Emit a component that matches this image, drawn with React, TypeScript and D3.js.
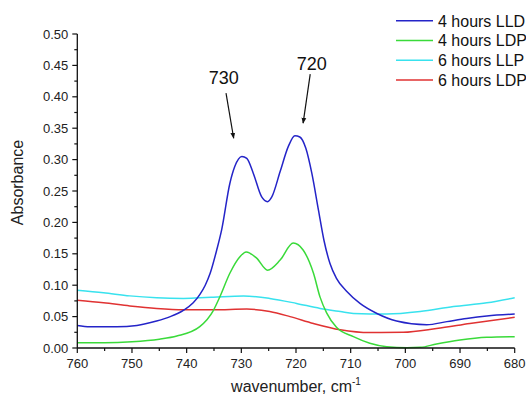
import React from "react";
import * as d3 from "d3";

const seriesNames = ["4 hours LLD", "4 hours LDP", "6 hours LLP", "6 hours LDP"];
const seriesColors = ["#2424c8", "#3ada3a", "#38e2ee", "#e03232"];

const blueWn = [760, 757.7, 752.8, 749.1, 745.5, 743, 740.6, 738.8, 737.6, 736.6, 735.7, 734.5, 733.6, 732.1, 731.2, 729.9, 729, 727.8, 726.3, 725.2, 724.4, 722.9, 721.4, 720.2, 719.3, 718.2, 717.1, 715.9, 714.9, 713.8, 712.6, 710.7, 708.3, 705.2, 701.6, 696.1, 692.4, 688.8, 685.1, 680];
const blueAbs = [0.036, 0.034, 0.034, 0.036, 0.043, 0.05, 0.06, 0.072, 0.085, 0.1, 0.119, 0.156, 0.188, 0.262, 0.289, 0.305, 0.302, 0.278, 0.241, 0.233, 0.241, 0.281, 0.321, 0.338, 0.336, 0.318, 0.278, 0.22, 0.172, 0.135, 0.111, 0.09, 0.071, 0.055, 0.043, 0.037, 0.042, 0.047, 0.051, 0.054];

const greenWn = [760, 755, 750, 745, 741.8, 737.6, 735.1, 733.9, 732.1, 730.3, 729.1, 727.2, 725.2, 722.9, 720.5, 718.7, 716.8, 715.6, 714.4, 712.6, 709.5, 706.5, 703.4, 699.7, 697.3, 694.3, 690, 685.1, 680];
const greenAbs = [0.0085, 0.0085, 0.01, 0.014, 0.019, 0.034, 0.06, 0.082, 0.119, 0.145, 0.153, 0.143, 0.124, 0.14, 0.167, 0.156, 0.119, 0.081, 0.056, 0.033, 0.018, 0.0075, 0.002, 0.0005, 0.001, 0.0064, 0.0127, 0.017, 0.018];

const cyanWn = [760, 755.2, 750.4, 745.5, 740.6, 737.6, 735.1, 729.6, 724.8, 719.9, 715.6, 711.9, 709.5, 703.4, 697.3, 691.2, 685.1, 680];
const cyanAbs = [0.092, 0.088, 0.083, 0.08, 0.079, 0.08, 0.081, 0.083, 0.079, 0.071, 0.063, 0.058, 0.055, 0.054, 0.058, 0.066, 0.072, 0.08];

const redWn = [760, 755.2, 750.4, 745.5, 740.6, 737.6, 735.1, 729, 724.8, 721.1, 716.8, 711.9, 706.5, 700.4, 694.3, 688.2, 680];
const redAbs = [0.076, 0.072, 0.067, 0.063, 0.061, 0.061, 0.061, 0.062, 0.058, 0.05, 0.039, 0.029, 0.0245, 0.025, 0.031, 0.039, 0.049];

const xTicks = [760, 750, 740, 730, 720, 710, 700, 690, 680];
const yTicks = [0, 0.05, 0.1, 0.15, 0.2, 0.25, 0.3, 0.35, 0.4, 0.45, 0.5];

const annLabels = ["730", "720"];
const annTextWn = [733.2, 717.1];
const annTextAbs = [0.42, 0.443];
const arrowFromWn = [732.8, 717.4];
const arrowFromAbs = [0.406, 0.436];
const arrowToWn = [731.4, 718.7];
const arrowToAbs = [0.334, 0.358];

const W = 526;
const H = 397;
const FONT = "Liberation Sans, Arial, sans-serif";

export default function App() {
  const x = d3.scaleLinear().domain([760, 680]).range([77.3, 514.7]);
  const y = d3.scaleLinear().domain([0, 0.5]).range([348, 34]);

  const series = [
    { wn: blueWn, ab: blueAbs },
    { wn: greenWn, ab: greenAbs },
    { wn: cyanWn, ab: cyanAbs },
    { wn: redWn, ab: redAbs },
  ];

  const line = d3
    .line<[number, number]>()
    .x((d) => x(d[0]))
    .y((d) => y(d[1]))
    .curve(d3.curveMonotoneX);

  const xMinor = d3.range(760, 679, -5);
  const yMinor = d3.range(0, 0.501, 0.025);

  const order = [2, 3, 1, 0];

  return (
    <svg
      width={W}
      height={H}
      style={{ position: "absolute", left: 0, top: 0, background: "#fff" }}
      fontFamily={FONT}
    >
      <defs>
        <marker id="ah" viewBox="0 0 10 10" refX="9" refY="5" markerWidth="6" markerHeight="7" orient="auto" markerUnits="userSpaceOnUse">
          <path d="M0,1 L10,5 L0,9 z" fill="#111" />
        </marker>
      </defs>
      <rect x={0} y={0} width={W} height={H} fill="#fff" />

      {order.map((i) => (
        <path
          key={i}
          d={line(series[i].wn.map((w, k) => [w, series[i].ab[k]] as [number, number])) || ""}
          fill="none"
          stroke={seriesColors[i]}
          strokeWidth={1.5}
        />
      ))}

      <line x1={x(760)} x2={x(760)} y1={y(0)} y2={y(0.5)} stroke="#111" strokeWidth={1.3} />
      {yMinor.map((v, i) => (
        <line key={"ym" + i} x1={x(760) - (i % 2 === 0 ? 5 : 3)} x2={x(760)} y1={y(v)} y2={y(v)} stroke="#111" strokeWidth={1.2} />
      ))}
      {yTicks.map((v) => (
        <text key={"yt" + v} x={x(760) - 9} y={y(v) + 4.5} fontSize={13} textAnchor="end" fill="#222">
          {v.toFixed(2)}
        </text>
      ))}

      <line x1={x(760)} x2={x(680)} y1={y(0)} y2={y(0)} stroke="#111" strokeWidth={1.3} />
      {xMinor.map((v, i) => (
        <line key={"xm" + i} x1={x(v)} x2={x(v)} y1={y(0)} y2={y(0) + (i % 2 === 0 ? 5 : 3)} stroke="#111" strokeWidth={1.2} />
      ))}
      {xTicks.map((v) => (
        <text key={"xt" + v} x={x(v)} y={368} fontSize={13} textAnchor="middle" fill="#222">
          {v}
        </text>
      ))}

      <text x={296} y={391.5} fontSize={16} textAnchor="middle" fill="#222">
        wavenumber, cm<tspan dy={-7} fontSize={10}>-1</tspan>
      </text>
      <text transform={`translate(23,182.5) rotate(-90)`} fontSize={16} textAnchor="middle" fill="#222">
        Absorbance
      </text>

      {annLabels.map((l, i) => (
        <g key={"an" + i}>
          <text x={x(annTextWn[i])} y={y(annTextAbs[i])} fontSize={18} textAnchor="middle" fill="#111">
            {l}
          </text>
          <line
            x1={x(arrowFromWn[i])}
            y1={y(arrowFromAbs[i])}
            x2={x(arrowToWn[i])}
            y2={y(arrowToAbs[i])}
            stroke="#111"
            strokeWidth={1.2}
            markerEnd="url(#ah)"
          />
        </g>
      ))}

      {seriesNames.map((n, i) => (
        <g key={"lg" + i} transform={`translate(0,${20.7 + i * 19.8})`}>
          <line x1={396} x2={433} y1={0} y2={0} stroke={seriesColors[i]} strokeWidth={1.5} />
          <text x={438} y={5.8} fontSize={16} fill="#111">
            {n}
          </text>
        </g>
      ))}
    </svg>
  );
}
